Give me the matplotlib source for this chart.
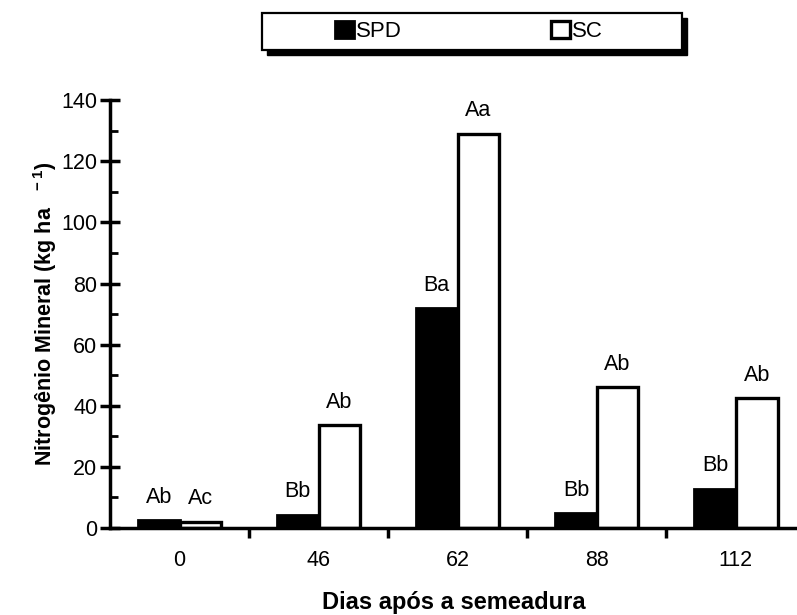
import matplotlib
matplotlib.use("Agg")
import matplotlib.pyplot as plt
import matplotlib.patches as mpatches
import numpy as np

plt.rcParams['font.family'] = ['Liberation Sans', 'DejaVu Sans']
plt.rcParams['mathtext.fontset'] = 'custom'
plt.rcParams['mathtext.rm'] = 'Liberation Sans'
plt.rcParams['mathtext.bf'] = 'Liberation Sans:bold'

# dias apos a semeadura
dias = ['0', '46', '62', '88', '112']
spd = [2.5, 4.3, 72, 4.9, 12.8]
sc = [2.0, 33.7, 129, 46, 42.5]
letras_spd = ['Ab', 'Bb', 'Ba', 'Bb', 'Bb']
letras_sc = ['Ac', 'Ab', 'Aa', 'Ab', 'Ab']

x = np.arange(len(dias))
w = 0.3

fig = plt.figure(figsize=(7.97, 6.15), dpi=100)
ax = fig.add_axes([0.138, 0.1415, 0.862, 0.6955])

b1 = ax.bar(x - w / 2, spd, w, color='black', edgecolor='black', linewidth=2, label='SPD')
b2 = ax.bar(x + w / 2, sc, w, color='white', edgecolor='black', linewidth=2.4, label='SC')

for xi, v, t in zip(x - w / 2, spd, letras_spd):
    ax.annotate(t, (xi, v), xytext=(0, 9), textcoords='offset points',
                ha='center', va='bottom', fontsize=15.5)
for xi, v, t in zip(x + w / 2, sc, letras_sc):
    ax.annotate(t, (xi, v), xytext=(0, 9), textcoords='offset points',
                ha='center', va='bottom', fontsize=15.5)

ax.set_xlim(-0.5, len(dias) - 0.56)
ax.set_ylim(0, 140)

for s in ['top', 'right']:
    ax.spines[s].set_visible(False)
ax.spines['left'].set_linewidth(2.5)
ax.spines['bottom'].set_linewidth(2.5)

ax.set_yticks(np.arange(0, 141, 20))
ax.set_yticks(np.arange(10, 141, 20), minor=True)
ax.tick_params(axis='y', which='major', direction='inout', length=14, width=2.5,
               labelsize=15.5, pad=2)
ax.tick_params(axis='y', which='minor', direction='in', length=6, width=2)

# ticks entre os grupos, rotulos no centro
ax.set_xticks(np.arange(0.5, len(dias) - 1, 1))
ax.set_xticklabels([])
ax.set_xticks(x, minor=True)
ax.set_xticklabels(dias, minor=True)
ax.tick_params(axis='x', which='major', direction='out', length=7, width=2.5)
ax.tick_params(axis='x', which='minor', length=0, labelsize=15.5, pad=16)

ax.set_xlabel('Dias após a semeadura', fontsize=17, fontweight='bold', labelpad=14)
ax.set_ylabel(r'Nitrogênio Mineral (kg ha$^{\mathbf{\ \ \ -1}}$)', fontsize=15.5,
              fontweight='bold', labelpad=2)

# caixa da legenda com sombra
bx0, by0, bw, bh = 262 / 797, 1 - 50 / 615, 420 / 797, 37 / 615
fig.patches.append(mpatches.Rectangle((bx0 + 5 / 797, by0 - 5 / 615), bw, bh,
                                      transform=fig.transFigure, facecolor='black',
                                      edgecolor='black', zorder=1))
fig.patches.append(mpatches.Rectangle((bx0, by0), bw, bh, transform=fig.transFigure,
                                      facecolor='white', edgecolor='black',
                                      linewidth=1.6, zorder=2))
leg = fig.legend([b1, b2], ['SPD', 'SC'], ncol=2, loc='center',
                 bbox_to_anchor=(bx0 + bw / 2 - 3 / 797, by0 + bh / 2), fontsize=16,
                 handlelength=0.85, handleheight=0.85, handletextpad=0.1,
                 columnspacing=6.7, borderpad=0, frameon=False)
leg.set_zorder(3)

fig.savefig('out.png', dpi=100)
